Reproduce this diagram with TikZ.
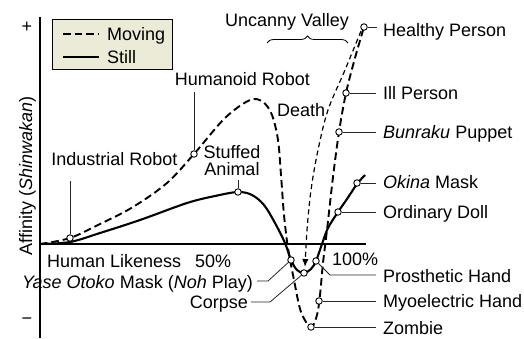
\documentclass[tikz,border=0pt]{standalone}
\usepackage{fontspec}
\setmainfont{Liberation Sans}
\usetikzlibrary{arrows.meta,decorations.pathreplacing}
\definecolor{legendbg}{RGB}{236,235,216}
\begin{document}
\begin{tikzpicture}[x=1pt,y=-1pt,
  every node/.style={font=\fontsize{18}{20}\selectfont, inner sep=0pt},
  movingline/.style={line width=1.9pt, dash pattern=on 7.5pt off 4pt},
  stillline/.style={line width=2.1pt},
  deathline/.style={line width=1.2pt, dash pattern=on 5pt off 3.5pt},
  axisline/.style={line width=1.5pt},
  leader/.style={line width=0.8pt, black!85},
  pt/.style={circle, draw, fill=white, line width=0.9pt, minimum size=6.5pt, inner sep=0pt},
  rlab/.style={anchor=base west},
]
\useasboundingbox (0,0) rectangle (524,338);

% axes
\coordinate (ytop) at (40,17);
\coordinate (ybot) at (40,338);
\coordinate (orig) at (40,244);
\coordinate (xend) at (366,244);
\draw[axisline] (ytop) -- (ybot);
\draw[axisline] (orig) -- (xend);
\node (plus) at (27,27) {+};
\node (minus) at (27,321) {−};
\node[anchor=base, rotate=90] (ylab) at (32,176) {Affinity (\textit{Shinwakan})};

% legend
\node[draw, fill=legendbg, line width=0.8pt, minimum width=120pt, minimum height=50pt, anchor=north west] (legend) at (52,19) {};
\coordinate (lm1) at (63,34); \coordinate (lm2) at (99,34);
\coordinate (ls1) at (63,57); \coordinate (ls2) at (99,57);
\draw[movingline] (lm1) -- (lm2);
\draw[stillline] (ls1) -- (ls2);
\node[anchor=base west] (lmt) at (107,40) {Moving};
\node[anchor=base west] (lst) at (107,63) {Still};

% curves
\draw[movingline] plot[smooth, tension=0.55] coordinates {(40,244) (70,238) (100,224) (133,207) (167,183) (194,154) (225,118) (250,100) (263,102) (272,115) (278,140) (281,175) (284,215) (288,248) (294,280) (301,312) (311,327) (317,315) (320,295) (323,263) (327,230) (333,177) (339,132) (346,93) (355,58) (364,27)};
\draw[stillline] plot[smooth, tension=0.55] coordinates {(40,244) (70,242) (100,233) (140,220) (187,203) (215,196) (238,192) (252,195) (264,205) (275,223) (285,243) (291,260) (297,270) (304,273) (311,269) (316,261) (322,244) (328,228) (338,212) (347,199) (357,184) (365,175)};
\draw[deathline, -{Latex[length=8pt,width=6.5pt]}] plot[smooth, tension=0.55] coordinates {(361,31) (345,70) (328,110) (318,150) (311,190) (307,230) (305,267)};

% brace
\draw[decorate, decoration={brace, amplitude=7pt}, line width=0.8pt] (267,43) -- (348,43);

% points
\node[pt] (ind) at (70,238) {};
\node[pt] (hum) at (194,154) {};
\node[pt] (stuf) at (238,192) {};
\node[pt] (yase) at (291,260) {};
\node[pt] (corp) at (304,273) {};
\node[pt] (pros) at (316,261) {};
\node[pt] (myo) at (319,301) {};
\node[pt] (zomb) at (311,327) {};
\node[pt] (doll) at (338,212) {};
\node[pt] (okin) at (357,183) {};
\node[pt] (bunr) at (339,132) {};
\node[pt] (ill) at (346,93) {};
\node[pt] (heal) at (364,27) {};

% labels
\node[anchor=base] (tuv) at (287,26) {Uncanny Valley};
\node[anchor=base] (tind) at (114.5,165) {Industrial Robot};
\node[anchor=base] (thum) at (242.5,85) {Humanoid Robot};
\node[anchor=base] (tstuf1) at (232,158) {Stuffed};
\node[anchor=base] (tstuf2) at (232,175) {Animal};
\node[anchor=base west] (tdeath) at (277,116) {Death};
\node[anchor=base west] (thl) at (47,267) {Human Likeness};
\node[anchor=base west] (t50) at (195,267) {50\%};
\node[anchor=base west] (t100) at (332,265) {100\%};
\node[anchor=base east] (tyase) at (253,288) {\textit{Yase Otoko} Mask (\textit{Noh} Play)};
\node[anchor=base east] (tcorp) at (248,308) {Corpse};
\node[rlab] (theal) at (383,36) {Healthy Person};
\node[rlab] (till) at (383,99) {Ill Person};
\node[rlab] (tbunr) at (383,138) {\textit{Bunraku} Puppet};
\node[rlab] (tokin) at (383,188) {\textit{Okina} Mask};
\node[rlab] (tdoll) at (383,218) {Ordinary Doll};
\node[rlab] (tpros) at (383,282) {Prosthetic Hand};
\node[rlab] (tmyo) at (383,307) {Myoelectric Hand};
\node[rlab] (tzomb) at (383,334) {Zombie};

% leaders
\coordinate (cind) at (70,181);
\coordinate (chum) at (194,92);
\coordinate (cstuf) at (238,180);
\draw[leader] (cind) -- (ind);
\draw[leader] (chum) -- (hum);
\draw[leader] (cstuf) -- (stuf);
\draw[leader, shorten >=6pt] (heal) -- (heal -| theal.west);
\draw[leader, shorten >=7pt] (ill) -- (ill -| till.west);
\draw[leader, shorten >=7pt] (bunr) -- (bunr -| tbunr.west);
\draw[leader, shorten >=7pt] (okin) -- (okin -| tokin.west);
\draw[leader, shorten >=7pt] (doll) -- (doll -| tdoll.west);
\draw[leader, shorten >=7pt] (myo) -- (myo -| tmyo.west);
\draw[leader, shorten >=7pt] (zomb) -- (zomb -| tzomb.west);
\coordinate (kpros) at (330,275);
\coordinate (epros) at (376,275);
\draw[leader] (pros) -- (kpros) -- (epros);
\coordinate (syase) at (257,281);
\coordinate (kyase) at (268,281);
\draw[leader] (syase) -- (kyase) -- (yase);
\coordinate (scorp) at (251,302);
\coordinate (kcorp) at (270,302);
\draw[leader] (scorp) -- (kcorp) -- (corp);
\end{tikzpicture}
\end{document}
